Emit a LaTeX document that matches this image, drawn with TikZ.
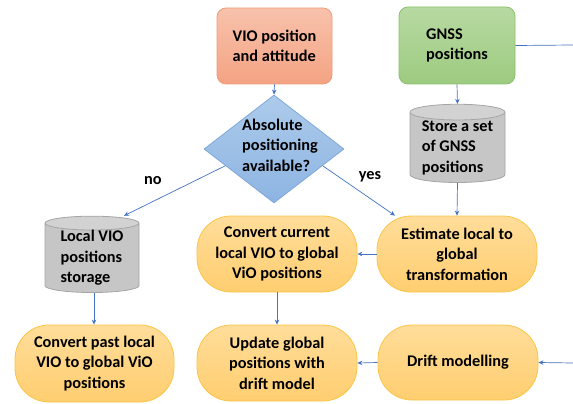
\documentclass[tikz,border=0pt]{standalone}
\usepackage{fontspec}
\setmainfont{Carlito}
\usetikzlibrary{shapes.geometric,arrows.meta}
\definecolor{linec}{HTML}{4472C4}
\definecolor{salmonT}{HTML}{F8C2AC}
\definecolor{salmonB}{HTML}{F4A383}
\definecolor{salmonD}{HTML}{F19C78}
\definecolor{greenT}{HTML}{B7D9A2}
\definecolor{greenB}{HTML}{9DCB80}
\definecolor{greenD}{HTML}{8CC06B}
\definecolor{blueT}{HTML}{ADCBEB}
\definecolor{blueB}{HTML}{8DB4E2}
\definecolor{blueD}{HTML}{7FA8DA}
\definecolor{grayBody}{HTML}{C6C6C6}
\definecolor{grayEnd}{HTML}{D2D2D2}
\definecolor{grayD}{HTML}{A5A5A5}
\definecolor{yelT}{HTML}{FFDD9A}
\definecolor{yelB}{HTML}{FFCE70}
\definecolor{yelD}{HTML}{FBC547}
\tikzset{
  txt/.style={font=\bfseries\fontsize{16.3}{20.5}\selectfont, text=black},
  srcbox/.style={txt, rounded corners=9pt, draw, line width=0.8pt},
  stad/.style={txt, rounded corners=34pt, draw=yelD, line width=0.8pt,
    top color=yelT, bottom color=yelB, align=center, inner sep=0pt,
    minimum width=160pt, minimum height=76pt},
  store/.style={txt, cylinder, shape border rotate=90, aspect=0.22,
    draw=grayD, line width=0.8pt, cylinder uses custom fill,
    cylinder body fill=grayBody, cylinder end fill=grayEnd,
    align=left, inner sep=0pt},
  conn/.style={draw=linec, line width=0.7pt},
  arr/.style={conn, -{Stealth[length=5pt,width=4.5pt]}},
}
\begin{document}
\begin{tikzpicture}[x=1pt,y=-1pt]
\useasboundingbox (0,0) rectangle (573,404);

\node[srcbox, draw=salmonD, top color=salmonT, bottom color=salmonB,
  minimum width=115pt, minimum height=76pt, align=left] (vio) at (274.5,46)
  {VIO position\\and attitude};
\node[srcbox, draw=greenD, top color=greenT, bottom color=greenB,
  minimum width=116pt, minimum height=77pt, align=left] (gnss) at (457,45.5)
  {GNSS\\positions};

\node[diamond, draw=blueD, line width=0.8pt, top color=blueT, bottom color=blueB,
  minimum width=140pt, minimum height=108pt, inner sep=0pt] (d) at (274,149) {};
\node[txt, align=left] (dt) at (280,145) {Absolute\\positioning\\available?};

\node[store, minimum width=95pt, minimum height=65pt] (st) at (457.5,147.5)
  {Store a set\\of GNSS\\positions};
\node[store, minimum width=94pt, minimum height=70pt] (loc) at (92,258)
  {Local VIO\\positions\\storage};

\node[stad] (cc) at (277,254) {Convert current\\local VIO to global\\ViO positions};
\node[stad] (est) at (457,254) {Estimate local to\\global\\transformation};
\node[stad, minimum width=159pt, minimum height=77pt] (cp) at (94.5,363.5)
  {Convert past local\\VIO to global ViO\\positions};
\node[stad] (up) at (277,363) {Update global\\positions with\\drift model};
\node[stad, minimum height=75pt] (dr) at (458,362.5) {Drift modelling};

\node[txt] (no) at (153,181) {no};
\node[txt] (yes) at (370,177) {yes};

\coordinate (gout) at (573,45);
\coordinate (din) at (573,363);

\draw[arr] (vio.south) -- (d.north);
\draw[arr] (gnss.south) -- (st.north);
\draw[conn] (gnss.east) -- (gout);
\draw[arr] (d.199) -- ([xshift=32pt]loc.north);
\draw[arr] (d.-19) -- ([xshift=-62pt]est.north);
\draw[arr] (st.south) -- (est.north);
\draw[arr] (est.west) -- (cc.east);
\draw[arr] ([xshift=2pt]loc.south) -- ([xshift=-0.5pt]cp.north);
\draw[arr] (cc.south) -- (up.north);
\draw[arr] (dr.west) -- (up.east);
\draw[arr] (din) -- (dr.east);
\end{tikzpicture}
\end{document}
